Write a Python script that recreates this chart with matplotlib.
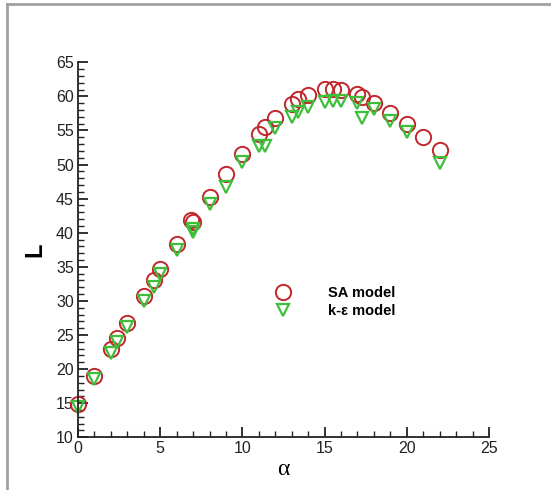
import matplotlib
matplotlib.use('Agg')
import matplotlib.pyplot as plt
from matplotlib.ticker import MultipleLocator
from matplotlib.lines import Line2D

# angle of attack and L for the two turbulence models
alpha_sa = [0, 1, 2, 2.4, 3, 4, 4.6, 5, 6, 6.9, 7.0, 8, 9, 10, 11, 11.4, 12,
            13, 13.4, 14, 15, 15.5, 16, 17, 17.3, 18, 19, 20, 21, 22]
L_sa = [14.9, 19.0, 22.9, 24.5, 26.8, 30.7, 33.0, 34.7, 38.3, 41.9, 41.6, 45.3,
        48.6, 51.5, 54.5, 55.5, 56.9, 58.9, 59.6, 60.2, 61.1, 61.1, 61.0,
        60.4, 59.9, 59.1, 57.5, 55.9, 54.0, 52.1]

alpha_ke = [0, 1, 2, 2.4, 3, 4, 4.6, 5, 6, 7.0, 7.0, 8, 9, 10, 11, 11.4, 12,
            13, 13.4, 14, 15, 15.5, 16, 17, 17.3, 18, 19, 20, 22]
L_ke = [14.5, 18.5, 22.3, 24.0, 26.2, 30.0, 32.0, 34.0, 37.4, 40.6, 40.1, 44.2,
        46.7, 50.4, 52.7, 52.7, 55.3, 57.0, 57.7, 58.5, 59.2, 59.3, 59.3,
        59.1, 56.9, 58.2, 56.4, 54.8, 50.2]

plt.rcParams['font.family'] = ['Liberation Sans', 'DejaVu Sans']

fig = plt.figure(figsize=(5.51, 4.9), dpi=100)
ax = fig.add_axes([0.1416, 0.1076, 0.7459, 0.7653])

ax.plot(alpha_sa, L_sa, linestyle='none', marker='o', markersize=11,
        markerfacecolor='none', markeredgecolor='#c0262c', markeredgewidth=1.4,
        label='SA model', clip_on=False)
ax.plot(alpha_ke, L_ke, linestyle='none', marker='v', markersize=9,
        markerfacecolor='none', markeredgecolor='#3dbf3a', markeredgewidth=1.6,
        label='k-\u03b5 model', clip_on=False)

ax.set_xlim(0, 25)
ax.set_ylim(10, 65)
ax.xaxis.set_major_locator(MultipleLocator(5))
ax.xaxis.set_minor_locator(MultipleLocator(1))
ax.yaxis.set_major_locator(MultipleLocator(5))
ax.yaxis.set_minor_locator(MultipleLocator(1))

ax.spines['top'].set_visible(False)
ax.spines['right'].set_visible(False)
for s in ('left', 'bottom'):
    ax.spines[s].set_linewidth(1.3)
    ax.spines[s].set_color('#222222')
ax.tick_params(which='major', direction='in', length=7, width=1.3,
               labelsize=11.5, colors='#222222', pad=3)
ax.tick_params(which='minor', direction='in', length=4, width=1.0,
               colors='#222222')

ax.set_xlabel('\u03b1', fontsize=17, family='Liberation Serif', labelpad=2)
ax.set_ylabel('L', fontsize=17, fontweight='bold', labelpad=7)

ax.legend(loc='center left', bbox_to_anchor=(0.463, 0.361), frameon=False,
          borderpad=0, borderaxespad=0, handletextpad=2.1, labelspacing=0.3,
          prop={'size': 10.5, 'weight': 'bold'})

# grey frame of the original picture (left and top edges)
fig.add_artist(Line2D([7 / 551, 7 / 551], [0, 1 - 4 / 490], color='#a0a0a0', lw=2))
fig.add_artist(Line2D([7 / 551, 1], [1 - 4 / 490, 1 - 4 / 490], color='#a0a0a0', lw=2))

fig.savefig('out.png', dpi=100)
plt.close(fig)
